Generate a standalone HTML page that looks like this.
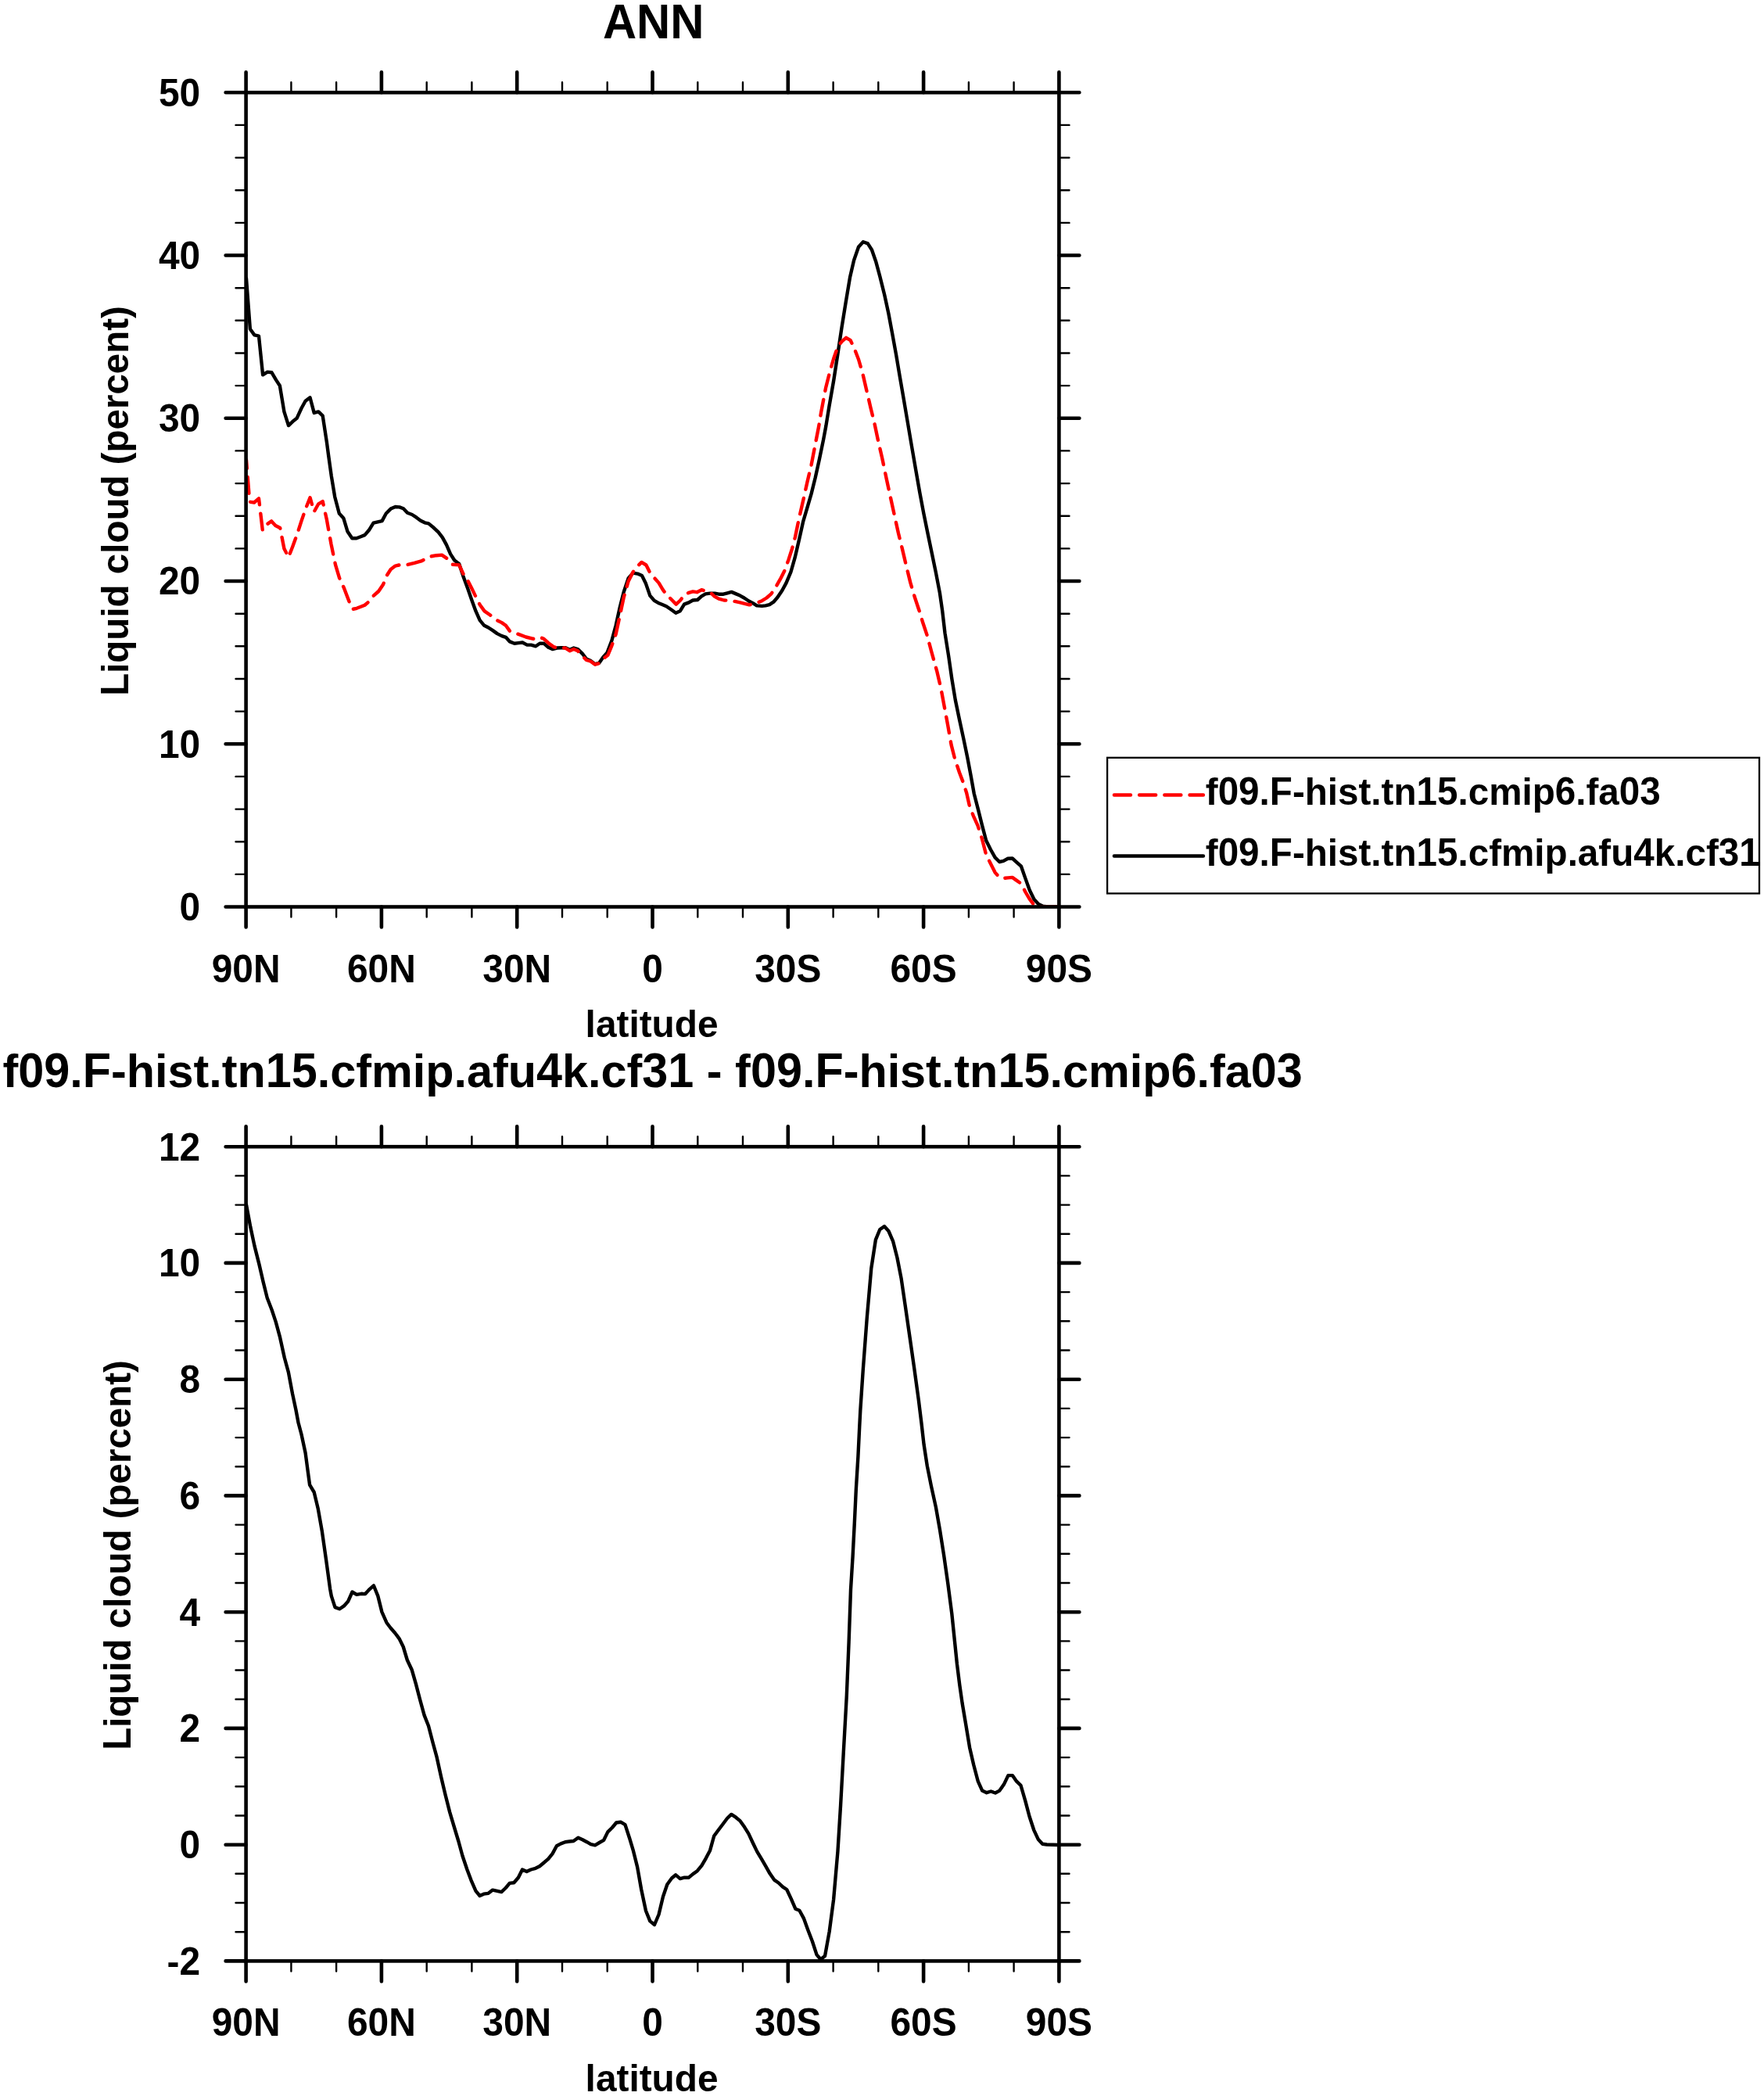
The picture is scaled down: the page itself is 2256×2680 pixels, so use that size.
<!DOCTYPE html>
<html><head><meta charset="utf-8"><title>ANN Liquid cloud</title>
<style>html,body{margin:0;padding:0;background:#fff;}svg{display:block;}text{font-family:"Liberation Sans",sans-serif;font-weight:bold;fill:#000;}</style></head><body>
<svg width="2256" height="2680" viewBox="0 0 2256 2680">
<rect width="2256" height="2680" fill="#fff"/>
<defs><filter id="nf" x="0" y="0" width="100%" height="100%" filterUnits="userSpaceOnUse" color-interpolation-filters="sRGB"><feOffset dx="0" dy="0"/></filter></defs>
<clipPath id="c1"><rect x="314.6" y="118.3" width="1039.8000000000002" height="1041.2"/></clipPath>
<g clip-path="url(#c1)" fill="none" stroke-linejoin="round" stroke-linecap="round">
<polyline points="315.0,356.0 319.9,420.8 325.4,428.4 331.0,429.6 336.1,479.3 342.0,475.6 347.5,476.3 353.1,485.9 357.9,493.3 363.4,526.4 369.0,544.1 375.2,538.2 379.6,534.8 385.5,522.0 390.6,512.7 396.5,508.3 401.7,527.9 407.3,526.4 412.7,531.6 417.9,565.5 420.1,582.1 423.8,608.6 428.2,635.2 433.8,656.5 439.3,662.4 444.4,679.4 450.3,688.2 455.9,688.2 461.2,686.2 466.5,684.1 472.4,677.2 477.6,668.6 483.1,667.3 488.6,666.1 493.8,656.5 499.7,650.6 505.6,648.0 510.8,648.4 515.9,650.2 521.1,655.8 527.0,658.0 532.6,661.7 538.0,665.7 543.2,668.3 548.1,669.4 554.7,674.8 560.6,680.4 565.8,687.1 571.0,696.6 576.1,708.4 581.3,716.5 587.2,721.0 592.3,736.4 598.2,752.6 603.4,767.4 608.5,781.4 613.7,793.2 619.3,799.8 624.7,802.5 630.6,806.4 635.8,810.1 641.7,813.1 646.9,814.8 652.0,820.4 657.9,822.7 663.0,822.1 668.2,821.5 674.1,824.6 679.3,824.6 685.2,826.3 690.3,822.7 695.5,822.7 701.4,827.8 706.5,830.0 712.4,828.5 717.6,828.3 722.8,828.1 728.6,830.8 733.8,828.5 739.0,830.0 744.9,835.9 750.0,842.5 755.2,844.8 761.1,849.2 766.2,847.7 771.4,840.3 776.6,834.4 782.4,819.0 787.6,799.8 792.8,776.2 797.7,757.0 803.6,739.5 809.5,732.6 815.4,733.6 821.0,736.1 825.7,745.4 831.3,761.6 836.7,767.9 841.9,770.9 847.0,773.1 852.2,775.3 858.1,779.3 864.3,783.7 869.9,781.2 875.1,772.6 881.0,770.4 886.1,767.5 892.0,767.0 897.2,762.3 902.3,759.4 908.2,758.6 914.1,758.6 919.3,759.7 925.2,759.7 930.3,758.3 935.5,756.9 941.4,759.4 946.5,761.6 951.7,764.5 957.6,768.5 962.8,771.2 967.9,774.4 974.5,774.9 979.0,774.4 984.1,773.1 989.3,769.7 994.4,763.8 1000.3,755.0 1005.5,745.4 1011.4,731.4 1016.6,713.2 1021.9,690.5 1027.3,666.3 1032.4,649.1 1037.6,631.4 1042.7,610.7 1047.9,587.2 1053.1,562.1 1056.3,545.0 1060.4,519.9 1066.3,486.0 1071.5,452.1 1076.6,418.2 1081.8,385.8 1087.0,354.8 1092.1,332.7 1098.0,315.8 1103.9,309.2 1109.8,311.4 1115.0,319.5 1120.1,334.2 1125.3,353.4 1131.2,377.0 1136.3,400.5 1141.0,425.6 1146.1,453.6 1150.8,481.6 1155.9,511.1 1160.8,540.0 1165.8,569.5 1171.4,601.9 1176.3,629.9 1181.3,656.4 1186.4,681.5 1191.6,706.5 1196.8,731.6 1201.9,758.1 1205.2,781.0 1208.5,809.5 1213.2,839.0 1217.4,868.4 1221.8,895.0 1227.0,920.0 1232.1,943.6 1237.3,968.7 1241.7,992.2 1245.8,1015.0 1251.0,1035.1 1256.1,1055.6 1261.2,1074.8 1266.9,1086.2 1272.6,1096.4 1278.2,1102.0 1283.3,1100.9 1289.0,1097.8 1294.7,1097.5 1300.3,1102.6 1306.0,1107.7 1311.1,1122.4 1316.8,1138.3 1322.4,1149.7 1328.1,1155.9 1333.8,1158.7 1340.0,1159.5 1354.4,1159.5" stroke="#000" stroke-width="4.4"/>
<polyline points="315.0,588.0 318.4,630.7 319.9,641.8 325.1,642.5 331.0,637.4 335.8,677.9 341.3,670.5 347.2,666.4 352.3,672.0 358.2,675.0 363.4,701.5 369.0,712.5 374.4,698.5 380.3,682.3 385.5,666.1 391.1,649.9 396.5,636.2 401.7,654.3 407.3,644.3 412.7,641.1 417.9,664.6 423.5,695.6 429.0,722.1 434.1,739.1 440.0,752.0 447.4,771.5 451.1,778.9 456.2,777.8 461.4,775.8 466.5,773.7 471.7,769.3 477.6,761.9 484.2,756.0 490.1,747.2 494.5,736.1 499.7,728.0 505.6,723.6 512.2,722.1 521.1,722.1 529.9,719.9 538.8,717.4 545.0,714.5 551.1,711.4 558.0,710.2 565.1,709.6 571.0,713.6 578.3,721.7 587.2,722.4 592.3,733.5 598.2,742.3 603.4,752.6 608.5,763.0 613.7,773.3 619.6,781.4 627.0,786.5 634.3,792.4 641.7,796.1 646.9,799.8 652.0,806.9 660.9,810.1 672.6,814.5 682.2,816.8 690.3,814.8 695.5,816.8 701.4,822.2 708.0,827.1 712.4,828.5 722.8,828.5 728.6,832.2 733.8,830.0 739.0,832.2 744.9,838.9 750.0,844.0 755.2,845.5 761.1,849.6 766.2,848.2 771.4,842.3 777.3,837.8 782.4,825.6 787.6,811.0 792.6,788.0 797.7,764.0 803.6,743.2 809.5,731.4 815.4,724.0 820.5,718.9 826.4,722.5 830.8,731.4 836.7,738.7 842.6,745.4 847.8,754.2 853.0,760.9 858.9,766.7 864.7,772.6 870.2,767.5 875.8,760.1 881.0,757.9 886.1,756.4 891.3,757.2 897.2,754.2 902.3,755.7 908.2,757.2 913.4,762.3 919.3,765.7 925.9,767.5 936.2,768.2 946.5,770.4 958.3,773.4 967.2,771.2 974.5,768.2 980.4,764.5 986.3,759.4 992.2,750.5 998.1,740.2 1003.3,729.9 1008.4,715.9 1012.9,701.9 1017.0,686.5 1022.1,661.9 1027.4,639.0 1032.4,616.6 1037.6,594.5 1042.7,568.0 1047.0,546.0 1050.1,527.3 1056.0,496.3 1061.2,475.7 1066.3,458.0 1071.5,443.3 1076.6,436.6 1082.1,431.8 1087.7,435.2 1092.9,446.2 1098.0,459.5 1103.2,477.2 1108.3,499.3 1113.5,521.4 1118.3,541.0 1123.1,563.6 1128.2,585.7 1133.4,610.7 1138.5,634.3 1143.7,657.9 1148.9,681.5 1154.0,702.1 1159.2,724.2 1164.3,744.9 1169.5,762.5 1175.4,780.2 1179.8,794.7 1185.7,812.4 1191.6,834.5 1198.2,858.1 1203.4,880.2 1207.8,903.8 1212.2,927.4 1216.6,952.4 1221.1,970.1 1227.0,987.8 1232.1,1001.1 1236.2,1014.0 1239.7,1029.5 1244.8,1043.1 1250.5,1055.6 1255.6,1071.4 1261.2,1093.0 1266.9,1104.3 1272.6,1115.6 1277.7,1121.3 1283.3,1123.0 1289.0,1122.4 1294.7,1121.9 1300.3,1125.9 1306.0,1129.8 1311.1,1140.0 1316.8,1149.7 1322.4,1157.0 1325.9,1158.7 1331.0,1159.5 1354.4,1159.5" stroke="#ff0000" stroke-width="4.4" stroke-dasharray="20.8 11.34" stroke-dashoffset="10"/>
</g>
<g stroke="#000" stroke-linecap="round" fill="none">
<path d="M314.6,1117.9h-13.1M1354.4,1117.9h13.1M314.6,1076.2h-13.1M1354.4,1076.2h13.1M314.6,1034.6h-13.1M1354.4,1034.6h13.1M314.6,992.9h-13.1M1354.4,992.9h13.1M314.6,909.6h-13.1M1354.4,909.6h13.1M314.6,868.0h-13.1M1354.4,868.0h13.1M314.6,826.3h-13.1M1354.4,826.3h13.1M314.6,784.7h-13.1M1354.4,784.7h13.1M314.6,701.4h-13.1M1354.4,701.4h13.1M314.6,659.7h-13.1M1354.4,659.7h13.1M314.6,618.1h-13.1M1354.4,618.1h13.1M314.6,576.4h-13.1M1354.4,576.4h13.1M314.6,493.1h-13.1M1354.4,493.1h13.1M314.6,451.5h-13.1M1354.4,451.5h13.1M314.6,409.8h-13.1M1354.4,409.8h13.1M314.6,368.2h-13.1M1354.4,368.2h13.1M314.6,284.9h-13.1M1354.4,284.9h13.1M314.6,243.2h-13.1M1354.4,243.2h13.1M314.6,201.6h-13.1M1354.4,201.6h13.1M314.6,159.9h-13.1M1354.4,159.9h13.1M372.4,118.3v-13.1M372.4,1159.5v13.1M430.1,118.3v-13.1M430.1,1159.5v13.1M545.7,118.3v-13.1M545.7,1159.5v13.1M603.4,118.3v-13.1M603.4,1159.5v13.1M719.0,118.3v-13.1M719.0,1159.5v13.1M776.7,118.3v-13.1M776.7,1159.5v13.1M892.3,118.3v-13.1M892.3,1159.5v13.1M950.0,118.3v-13.1M950.0,1159.5v13.1M1065.6,118.3v-13.1M1065.6,1159.5v13.1M1123.3,118.3v-13.1M1123.3,1159.5v13.1M1238.9,118.3v-13.1M1238.9,1159.5v13.1M1296.6,118.3v-13.1M1296.6,1159.5v13.1" stroke-width="2.4"/>
<path d="M314.6,1159.5h-26.0M1354.4,1159.5h26.0M314.6,951.3h-26.0M1354.4,951.3h26.0M314.6,743.0h-26.0M1354.4,743.0h26.0M314.6,534.8h-26.0M1354.4,534.8h26.0M314.6,326.5h-26.0M1354.4,326.5h26.0M314.6,118.3h-26.0M1354.4,118.3h26.0M314.6,118.3v-26.0M314.6,1159.5v26.0M487.9,118.3v-26.0M487.9,1159.5v26.0M661.2,118.3v-26.0M661.2,1159.5v26.0M834.5,118.3v-26.0M834.5,1159.5v26.0M1007.8,118.3v-26.0M1007.8,1159.5v26.0M1181.1,118.3v-26.0M1181.1,1159.5v26.0M1354.4,118.3v-26.0M1354.4,1159.5v26.0" stroke-width="4.6"/>
</g>
<rect x="314.6" y="118.3" width="1039.8000000000002" height="1041.2" fill="none" stroke="#000" stroke-width="4.6"/>
<clipPath id="c2"><rect x="314.6" y="1466.2" width="1039.8000000000002" height="1041.2"/></clipPath>
<g clip-path="url(#c2)" fill="none" stroke-linejoin="round" stroke-linecap="round">
<polyline points="315.0,1540.4 320.4,1569.3 325.5,1593.1 331.5,1616.9 336.6,1639.0 341.7,1659.5 347.6,1674.8 352.7,1690.1 357.8,1708.8 363.8,1736.0 368.9,1754.7 374.0,1781.9 378.5,1803.0 381.5,1819.0 385.5,1834.0 390.6,1857.8 394.0,1883.3 396.1,1898.6 401.7,1908.0 406.8,1929.3 411.9,1958.2 417.0,1993.9 422.1,2031.3 423.8,2040.6 428.5,2055.1 434.3,2057.3 439.9,2053.4 445.0,2047.8 450.5,2035.5 456.1,2038.9 462.0,2037.8 467.1,2038.1 472.6,2032.1 477.9,2027.4 483.3,2040.6 488.4,2061.1 494.4,2074.7 499.5,2081.5 505.4,2088.3 510.5,2095.1 515.7,2105.5 520.8,2122.5 526.8,2135.3 531.9,2153.1 537.0,2172.7 542.6,2193.1 548.0,2206.7 553.5,2228.0 558.6,2246.7 564.2,2272.2 569.6,2295.1 575.2,2317.1 580.7,2335.5 586.3,2354.0 591.5,2373.0 597.4,2390.5 602.5,2404.1 608.5,2417.8 613.6,2424.0 618.7,2421.7 624.6,2420.8 630.1,2416.6 635.7,2417.8 641.3,2419.1 646.7,2414.0 651.8,2407.9 657.3,2407.2 662.9,2400.7 668.0,2390.5 673.6,2393.1 679.0,2390.5 685.0,2388.8 690.1,2386.3 695.2,2382.0 701.2,2376.9 706.6,2370.1 711.9,2360.3 717.3,2357.4 722.9,2355.2 728.4,2354.5 733.5,2354.0 739.4,2349.7 745.0,2352.3 750.5,2355.2 755.6,2358.2 761.0,2359.4 766.6,2356.0 772.2,2352.8 777.3,2342.4 782.8,2337.0 788.2,2330.5 793.8,2329.7 799.5,2333.1 804.9,2349.7 810.0,2366.7 815.1,2387.1 820.2,2416.0 826.0,2443.2 831.3,2456.4 837.0,2461.0 842.5,2448.0 848.0,2425.0 853.3,2409.5 859.1,2401.5 864.2,2397.3 869.8,2402.1 875.3,2400.7 880.9,2400.7 886.3,2396.1 891.8,2392.2 897.4,2385.4 902.8,2376.1 908.1,2365.9 913.2,2347.5 919.1,2339.5 924.6,2332.2 930.0,2325.0 935.3,2319.9 941.1,2323.7 946.7,2328.4 952.1,2336.1 957.4,2344.6 962.9,2356.5 968.3,2367.6 973.9,2376.9 979.4,2386.3 984.6,2395.6 990.1,2403.6 995.7,2407.5 1001.1,2412.6 1006.2,2416.0 1011.8,2427.9 1017.3,2440.7 1022.4,2442.7 1027.8,2452.6 1033.4,2467.9 1038.9,2482.3 1044.5,2499.4 1049.6,2505.3 1055.0,2501.1 1060.7,2469.6 1066.1,2428.8 1071.4,2367.6 1075.1,2308.0 1078.7,2242.0 1082.8,2168.0 1085.6,2100.0 1088.0,2032.6 1090.6,1990.1 1092.8,1947.6 1094.8,1905.0 1097.4,1862.5 1099.2,1825.0 1100.3,1803.6 1103.7,1752.6 1108.8,1684.6 1114.3,1621.6 1119.9,1585.1 1125.3,1572.0 1131.0,1568.1 1136.4,1574.0 1142.0,1586.8 1147.4,1608.0 1152.7,1635.2 1158.2,1672.7 1163.6,1710.1 1169.2,1749.2 1174.8,1790.0 1178.5,1820.0 1181.6,1847.2 1185.8,1874.4 1190.9,1899.9 1196.9,1927.1 1202.0,1956.1 1207.1,1988.4 1212.2,2024.1 1217.3,2063.2 1221.0,2098.9 1223.9,2127.2 1227.3,2154.4 1230.7,2178.2 1235.0,2203.7 1240.1,2234.4 1245.2,2256.5 1250.8,2277.7 1256.2,2289.6 1261.8,2292.2 1267.3,2290.5 1272.9,2292.5 1278.3,2289.6 1283.9,2281.6 1289.4,2270.1 1294.8,2270.1 1300.1,2277.7 1305.5,2282.8 1311.2,2302.4 1316.6,2322.8 1322.2,2339.8 1327.7,2351.7 1333.3,2357.7 1338.7,2358.5 1354.4,2359.0" stroke="#000" stroke-width="4.4"/>
</g>
<g stroke="#000" stroke-linecap="round" fill="none">
<path d="M314.6,2470.2h-13.1M1354.4,2470.2h13.1M314.6,2433.0h-13.1M1354.4,2433.0h13.1M314.6,2395.8h-13.1M1354.4,2395.8h13.1M314.6,2321.5h-13.1M1354.4,2321.5h13.1M314.6,2284.3h-13.1M1354.4,2284.3h13.1M314.6,2247.1h-13.1M1354.4,2247.1h13.1M314.6,2172.7h-13.1M1354.4,2172.7h13.1M314.6,2135.5h-13.1M1354.4,2135.5h13.1M314.6,2098.4h-13.1M1354.4,2098.4h13.1M314.6,2024.0h-13.1M1354.4,2024.0h13.1M314.6,1986.8h-13.1M1354.4,1986.8h13.1M314.6,1949.6h-13.1M1354.4,1949.6h13.1M314.6,1875.2h-13.1M1354.4,1875.2h13.1M314.6,1838.1h-13.1M1354.4,1838.1h13.1M314.6,1800.9h-13.1M1354.4,1800.9h13.1M314.6,1726.5h-13.1M1354.4,1726.5h13.1M314.6,1689.3h-13.1M1354.4,1689.3h13.1M314.6,1652.1h-13.1M1354.4,1652.1h13.1M314.6,1577.8h-13.1M1354.4,1577.8h13.1M314.6,1540.6h-13.1M1354.4,1540.6h13.1M314.6,1503.4h-13.1M1354.4,1503.4h13.1M372.4,1466.2v-13.1M372.4,2507.4v13.1M430.1,1466.2v-13.1M430.1,2507.4v13.1M545.7,1466.2v-13.1M545.7,2507.4v13.1M603.4,1466.2v-13.1M603.4,2507.4v13.1M719.0,1466.2v-13.1M719.0,2507.4v13.1M776.7,1466.2v-13.1M776.7,2507.4v13.1M892.3,1466.2v-13.1M892.3,2507.4v13.1M950.0,1466.2v-13.1M950.0,2507.4v13.1M1065.6,1466.2v-13.1M1065.6,2507.4v13.1M1123.3,1466.2v-13.1M1123.3,2507.4v13.1M1238.9,1466.2v-13.1M1238.9,2507.4v13.1M1296.6,1466.2v-13.1M1296.6,2507.4v13.1" stroke-width="2.4"/>
<path d="M314.6,2507.4h-26.0M1354.4,2507.4h26.0M314.6,2358.7h-26.0M1354.4,2358.7h26.0M314.6,2209.9h-26.0M1354.4,2209.9h26.0M314.6,2061.2h-26.0M1354.4,2061.2h26.0M314.6,1912.4h-26.0M1354.4,1912.4h26.0M314.6,1763.7h-26.0M1354.4,1763.7h26.0M314.6,1614.9h-26.0M1354.4,1614.9h26.0M314.6,1466.2h-26.0M1354.4,1466.2h26.0M314.6,1466.2v-26.0M314.6,2507.4v26.0M487.9,1466.2v-26.0M487.9,2507.4v26.0M661.2,1466.2v-26.0M661.2,2507.4v26.0M834.5,1466.2v-26.0M834.5,2507.4v26.0M1007.8,1466.2v-26.0M1007.8,2507.4v26.0M1181.1,1466.2v-26.0M1181.1,2507.4v26.0M1354.4,1466.2v-26.0M1354.4,2507.4v26.0" stroke-width="4.6"/>
</g>
<rect x="314.6" y="1466.2" width="1039.8000000000002" height="1041.2" fill="none" stroke="#000" stroke-width="4.6"/>
<rect x="1416.1" y="968.8" width="833.9" height="173.6" fill="#fff" stroke="#000" stroke-width="2.3"/>
<path d="M1424.95,1016.4H1538.9" stroke="#ff0000" stroke-width="4.5" stroke-linecap="round" stroke-dasharray="21 11.2" fill="none"/>
<path d="M1424.95,1094.5H1538.9" stroke="#000" stroke-width="4.5" stroke-linecap="round" fill="none"/>
<g filter="url(#nf)">
<text transform="translate(256.20,1176.90) translate(-26.64,0) scale(1,1.045)" font-size="47.9">0</text>
<text transform="translate(256.20,968.66) translate(-53.28,0) scale(1,1.045)" font-size="47.9">10</text>
<text transform="translate(256.20,760.42) translate(-53.28,0) scale(1,1.045)" font-size="47.9">20</text>
<text transform="translate(256.20,552.18) translate(-53.28,0) scale(1,1.045)" font-size="47.9">30</text>
<text transform="translate(256.20,343.94) translate(-53.28,0) scale(1,1.045)" font-size="47.9">40</text>
<text transform="translate(256.20,135.70) translate(-53.28,0) scale(1,1.045)" font-size="47.9">50</text>
<text transform="translate(314.60,1255.50) translate(-43.94,0) scale(1,1.045)" font-size="47.9">90N</text>
<text transform="translate(487.90,1255.50) translate(-43.94,0) scale(1,1.045)" font-size="47.9">60N</text>
<text transform="translate(661.20,1255.50) translate(-43.94,0) scale(1,1.045)" font-size="47.9">30N</text>
<text transform="translate(834.50,1255.50) translate(-13.32,0) scale(1,1.045)" font-size="47.9">0</text>
<text transform="translate(1007.80,1255.50) translate(-42.61,0) scale(1,1.045)" font-size="47.9">30S</text>
<text transform="translate(1181.10,1255.50) translate(-42.61,0) scale(1,1.045)" font-size="47.9">60S</text>
<text transform="translate(1354.40,1255.50) translate(-42.61,0) scale(1,1.045)" font-size="47.9">90S</text>
<text transform="translate(833.60,1325.60) translate(-84.98,0)" font-size="47.8">latitude</text>
<text transform="translate(164.40,640.50) rotate(-90) translate(-249.36,0) scale(1,1.045)" font-size="47.5">L</text>
<text transform="translate(164.40,640.50) rotate(-90) translate(-220.35,0)" font-size="47.5">iquid</text>
<text transform="translate(164.40,640.50) rotate(-90) translate(-93.71,0)" font-size="47.5">cloud</text>
<text transform="translate(164.40,640.50) rotate(-90) translate(46.14,0)" font-size="47.5">(percent)</text>
<text transform="translate(835.70,49.30) translate(-64.78,0) scale(1,1.065)" font-size="59.8">ANN</text>
<text transform="translate(256.20,2524.80) translate(-42.59,0)" font-size="47.9">-</text>
<text transform="translate(256.20,2524.80) translate(-26.64,0) scale(1,1.045)" font-size="47.9">2</text>
<text transform="translate(256.20,2376.06) translate(-26.64,0) scale(1,1.045)" font-size="47.9">0</text>
<text transform="translate(256.20,2227.31) translate(-26.64,0) scale(1,1.045)" font-size="47.9">2</text>
<text transform="translate(256.20,2078.57) translate(-26.64,0) scale(1,1.045)" font-size="47.9">4</text>
<text transform="translate(256.20,1929.83) translate(-26.64,0) scale(1,1.045)" font-size="47.9">6</text>
<text transform="translate(256.20,1781.09) translate(-26.64,0) scale(1,1.045)" font-size="47.9">8</text>
<text transform="translate(256.20,1632.34) translate(-53.28,0) scale(1,1.045)" font-size="47.9">10</text>
<text transform="translate(256.20,1483.60) translate(-53.28,0) scale(1,1.045)" font-size="47.9">12</text>
<text transform="translate(314.60,2603.40) translate(-43.94,0) scale(1,1.045)" font-size="47.9">90N</text>
<text transform="translate(487.90,2603.40) translate(-43.94,0) scale(1,1.045)" font-size="47.9">60N</text>
<text transform="translate(661.20,2603.40) translate(-43.94,0) scale(1,1.045)" font-size="47.9">30N</text>
<text transform="translate(834.50,2603.40) translate(-13.32,0) scale(1,1.045)" font-size="47.9">0</text>
<text transform="translate(1007.80,2603.40) translate(-42.61,0) scale(1,1.045)" font-size="47.9">30S</text>
<text transform="translate(1181.10,2603.40) translate(-42.61,0) scale(1,1.045)" font-size="47.9">60S</text>
<text transform="translate(1354.40,2603.40) translate(-42.61,0) scale(1,1.045)" font-size="47.9">90S</text>
<text transform="translate(833.60,2673.50) translate(-84.98,0)" font-size="47.8">latitude</text>
<text transform="translate(166.50,1988.50) rotate(-90) translate(-249.36,0) scale(1,1.045)" font-size="47.5">L</text>
<text transform="translate(166.50,1988.50) rotate(-90) translate(-220.35,0)" font-size="47.5">iquid</text>
<text transform="translate(166.50,1988.50) rotate(-90) translate(-93.71,0)" font-size="47.5">cloud</text>
<text transform="translate(166.50,1988.50) rotate(-90) translate(46.14,0)" font-size="47.5">(percent)</text>
<text transform="translate(834.60,1390.00) translate(-831.13,0) scale(1,1.012)" font-size="59.35">f</text>
<text transform="translate(834.60,1390.00) translate(-811.37,0) scale(1,1.06)" font-size="59.35">09</text>
<text transform="translate(834.60,1390.00) translate(-745.35,0) scale(1,1.012)" font-size="59.35">.</text>
<text transform="translate(834.60,1390.00) translate(-728.86,0) scale(1,1.06)" font-size="59.35">F</text>
<text transform="translate(834.60,1390.00) translate(-692.61,0) scale(1,1.012)" font-size="59.35">-hist.tn</text>
<text transform="translate(834.60,1390.00) translate(-494.82,0) scale(1,1.06)" font-size="59.35">15</text>
<text transform="translate(834.60,1390.00) translate(-428.81,0) scale(1,1.012)" font-size="59.35">.cfmip.afu</text>
<text transform="translate(834.60,1390.00) translate(-148.52,0) scale(1,1.06)" font-size="59.35">4</text>
<text transform="translate(834.60,1390.00) translate(-115.51,0) scale(1,1.012)" font-size="59.35">k.cf</text>
<text transform="translate(834.60,1390.00) translate(-13.24,0) scale(1,1.06)" font-size="59.35">31</text>
<text transform="translate(834.60,1390.00) translate(69.26,0) scale(1,1.012)" font-size="59.35">-</text>
<text transform="translate(834.60,1390.00) translate(105.51,0) scale(1,1.012)" font-size="59.35">f</text>
<text transform="translate(834.60,1390.00) translate(125.28,0) scale(1,1.06)" font-size="59.35">09</text>
<text transform="translate(834.60,1390.00) translate(191.29,0) scale(1,1.012)" font-size="59.35">.</text>
<text transform="translate(834.60,1390.00) translate(207.78,0) scale(1,1.06)" font-size="59.35">F</text>
<text transform="translate(834.60,1390.00) translate(244.04,0) scale(1,1.012)" font-size="59.35">-hist.tn</text>
<text transform="translate(834.60,1390.00) translate(441.82,0) scale(1,1.06)" font-size="59.35">15</text>
<text transform="translate(834.60,1390.00) translate(507.84,0) scale(1,1.012)" font-size="59.35">.cmip</text>
<text transform="translate(834.60,1390.00) translate(662.85,0) scale(1,1.06)" font-size="59.35">6</text>
<text transform="translate(834.60,1390.00) translate(695.86,0) scale(1,1.012)" font-size="59.35">.fa</text>
<text transform="translate(834.60,1390.00) translate(765.12,0) scale(1,1.06)" font-size="59.35">03</text>
<text transform="translate(1541.80,1029.10) translate(0.00,0)" font-size="47.6">f</text>
<text transform="translate(1541.80,1029.10) translate(15.85,0) scale(1,1.045)" font-size="47.6">09</text>
<text transform="translate(1541.80,1029.10) translate(68.80,0)" font-size="47.6">.</text>
<text transform="translate(1541.80,1029.10) translate(82.02,0) scale(1,1.045)" font-size="47.6">F</text>
<text transform="translate(1541.80,1029.10) translate(111.10,0)" font-size="47.6">-hist.tn</text>
<text transform="translate(1541.80,1029.10) translate(269.73,0) scale(1,1.045)" font-size="47.6">15</text>
<text transform="translate(1541.80,1029.10) translate(322.67,0)" font-size="47.6">.cmip</text>
<text transform="translate(1541.80,1029.10) translate(446.99,0) scale(1,1.045)" font-size="47.6">6</text>
<text transform="translate(1541.80,1029.10) translate(473.47,0)" font-size="47.6">.fa</text>
<text transform="translate(1541.80,1029.10) translate(529.02,0) scale(1,1.045)" font-size="47.6">03</text>
<text transform="translate(1541.80,1107.10) translate(0.00,0)" font-size="47.6">f</text>
<text transform="translate(1541.80,1107.10) translate(15.85,0) scale(1,1.045)" font-size="47.6">09</text>
<text transform="translate(1541.80,1107.10) translate(68.80,0)" font-size="47.6">.</text>
<text transform="translate(1541.80,1107.10) translate(82.02,0) scale(1,1.045)" font-size="47.6">F</text>
<text transform="translate(1541.80,1107.10) translate(111.10,0)" font-size="47.6">-hist.tn</text>
<text transform="translate(1541.80,1107.10) translate(269.73,0) scale(1,1.045)" font-size="47.6">15</text>
<text transform="translate(1541.80,1107.10) translate(322.67,0)" font-size="47.6">.cfmip.afu</text>
<text transform="translate(1541.80,1107.10) translate(547.47,0) scale(1,1.045)" font-size="47.6">4</text>
<text transform="translate(1541.80,1107.10) translate(573.94,0)" font-size="47.6">k.cf</text>
<text transform="translate(1541.80,1107.10) translate(655.96,0) scale(1,1.045)" font-size="47.6">31</text>
</g>
</svg></body></html>
